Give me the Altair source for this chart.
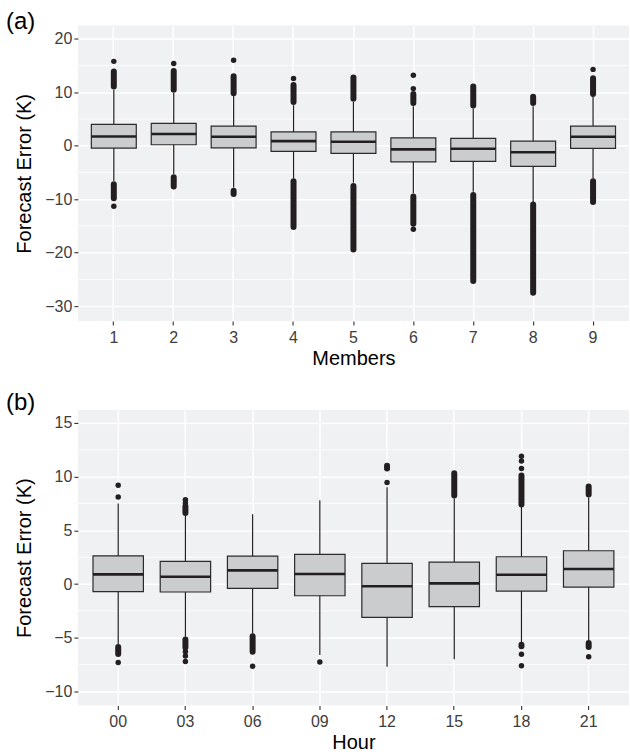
import altair as alt
import pandas as pd

# ---------------- Panel (a): ensemble members ----------------
members = ["1", "2", "3", "4", "5", "6", "7", "8", "9"]
m_low = [-6.6, -5.3, -7.8, -6.1, -6.9, -8.9, -8.6, -10.5, -6.1]
m_q1 = [-0.43, 0.2, -0.4, -1.05, -1.4, -3.0, -2.9, -3.85, -0.5]
m_med = [1.75, 2.2, 1.7, 0.88, 0.75, -0.67, -0.56, -1.2, 1.7]
m_q3 = [4.0, 4.2, 3.7, 2.6, 2.6, 1.5, 1.4, 0.88, 3.7]
m_high = [10.5, 9.9, 9.3, 7.6, 8.2, 7.4, 7.0, 7.4, 9.2]
# densely packed outliers (drawn as continuous runs of dots)
m_run_cat = ["1", "1", "2", "2", "3", "3", "4", "4", "5", "5", "6", "6", "7", "7", "8", "8", "9", "9"]
m_run_lo = [11.1, -9.8, 10.5, -7.6, 9.85, -9.0, 8.2, -15.2, 8.8, -19.4, 8.0, -14.6, 7.55, -25.3, 8.0, -27.5, 9.7, -10.5]
m_run_hi = [13.9, -7.2, 14.0, -5.9, 13.0, -8.4, 11.4, -6.65, 12.8, -7.5, 9.7, -9.5, 11.1, -9.2, 9.2, -11.0, 12.65, -6.65]
# isolated outliers
m_pt_cat = ["1", "1", "2", "3", "4", "6", "6", "6", "9"]
m_pt_val = [15.8, -11.3, 15.4, 16.0, 12.6, 13.2, 10.7, -15.6, 14.3]
a_ticks = [20, 10, 0, -10, -20, -30]
a_minor = [15, 5, -5, -15, -25]
a_domain = [-32.8, 22.5]

# ---------------- Panel (b): hour of day ----------------
hours = ["00", "03", "06", "09", "12", "15", "18", "21"]
h_low = [-5.6, -4.9, -4.6, -6.6, -7.7, -7.0, -5.4, -5.2]
h_q1 = [-0.71, -0.74, -0.4, -1.09, -3.1, -2.1, -0.65, -0.28]
h_med = [0.9, 0.68, 1.27, 0.93, -0.21, 0.06, 0.87, 1.4]
h_q3 = [2.63, 2.1, 2.6, 2.76, 1.92, 2.04, 2.54, 3.1]
h_high = [7.5, 6.4, 6.5, 7.8, 9.0, 7.96, 7.2, 8.06]
h_run_cat = ["00", "03", "03", "06", "12", "15", "18", "18", "21", "21"]
h_run_lo = [-6.5, 6.6, -5.9, -6.3, 10.75, 8.25, 7.4, -5.8, 8.34, -5.85]
h_run_hi = [-5.85, 7.25, -5.15, -4.85, 11.0, 10.3, 10.1, -5.65, 9.08, -5.48]
h_pt_cat = ["00", "00", "00", "03", "03", "03", "03", "03", "06", "09", "12",
            "18", "18", "18", "18", "18", "21"]
h_pt_val = [8.1, 9.2, -7.3, 7.55, 7.85, -6.3, -6.7, -7.2, -7.65, -7.25, 9.45,
            10.75, 11.45, 11.9, -6.53, -7.6, -6.76]
b_ticks = [15, 10, 5, 0, -5, -10]
b_minor = [12.5, 7.5, 2.5, -2.5, -7.5]
b_domain = [-11.3, 16.2]

FONT = "Liberation Sans"
INK = "#231F20"
W, H = 552, 296


def panel(cats, low, q1, med, q3, high, run_cat, run_lo, run_hi, pt_cat, pt_val,
          ticks, minor, domain, xtitle, label, label_offset):
    stats = pd.DataFrame({"cat": cats, "low": low, "q1": q1, "med": med, "q3": q3, "high": high})
    runs = pd.DataFrame({"cat": run_cat, "lo": run_lo, "hi": run_hi})
    pts = pd.DataFrame({"cat": pt_cat, "val": pt_val})
    grid = pd.DataFrame({"v": minor})

    step = W / (len(cats) + 0.2)
    xs = alt.Scale(domain=cats, paddingInner=0, paddingOuter=0.1)
    xax = alt.Axis(title=xtitle, labelAngle=0, bandPosition=0.5, grid=True,
                   labelPadding=4, titlePadding=3)
    x = alt.X("cat:N", scale=xs, axis=xax)
    ys = alt.Scale(domain=domain, nice=False, zero=False)
    yax = alt.Axis(values=ticks, title="Forecast Error (K)", labelPadding=2, titlePadding=10)

    def Y(f):
        return alt.Y(f"{f}:Q", scale=ys, axis=yax)

    minor_grid = alt.Chart(grid).mark_rule(color="white", strokeWidth=0.8).encode(
        y=Y("v"), x=alt.value(0), x2=alt.value(W))
    whisk = alt.Chart(stats).mark_rule(color=INK, strokeWidth=1.2, opacity=1).encode(
        x=x, y=Y("low"), y2="high")
    box = alt.Chart(stats).mark_bar(width=alt.RelativeBandSize(0.75), fill="#CBCCCE",
                                    stroke="#2b2b2b", strokeWidth=1.2, opacity=1).encode(
        x=x, y=Y("q1"), y2="q3")
    medl = alt.Chart(stats).mark_tick(color=INK, thickness=2.6, size=0.75 * step,
                                      opacity=1).encode(
        x=x, y=Y("med"))
    run = alt.Chart(runs).mark_rule(color=INK, strokeWidth=6, strokeCap="round",
                                    opacity=1).encode(
        x=x, y=Y("lo"), y2="hi")
    dots = alt.Chart(pts).mark_circle(color=INK, size=30, opacity=1).encode(
        x=x, y=Y("val"))

    return alt.layer(minor_grid, whisk, box, medl, run, dots).properties(
        width=W, height=H,
        title=alt.TitleParams(label, anchor="start", frame="group", dx=-72,
                              offset=label_offset, fontSize=24, fontWeight="normal",
                              color="black", font=FONT),
    )


pa = panel(members, m_low, m_q1, m_med, m_q3, m_high, m_run_cat, m_run_lo, m_run_hi,
           m_pt_cat, m_pt_val, a_ticks, a_minor, a_domain, "Members", "(a)", -8)
pb = panel(hours, h_low, h_q1, h_med, h_q3, h_high, h_run_cat, h_run_lo, h_run_hi,
           h_pt_cat, h_pt_val, b_ticks, b_minor, b_domain, "Hour", "(b)", -5)

chart = alt.vconcat(pa, pb, spacing=23).properties(
    padding={"left": 6, "top": 9, "right": 0, "bottom": 0}
).configure_view(
    fill="#F0F1F3", stroke=None
).configure_axis(
    labelFont=FONT, titleFont=FONT, labelFontSize=16, titleFontSize=20,
    titleFontWeight="normal", labelColor="#3d3d3d", titleColor="black",
    tickColor="#333333", tickSize=4, tickWidth=1.1, domain=False,
    gridColor="white", gridWidth=1.5, gridOpacity=1,
).configure_concat(spacing=23)

chart.save("out.html", embed_options={"renderer": "svg", "actions": False})
